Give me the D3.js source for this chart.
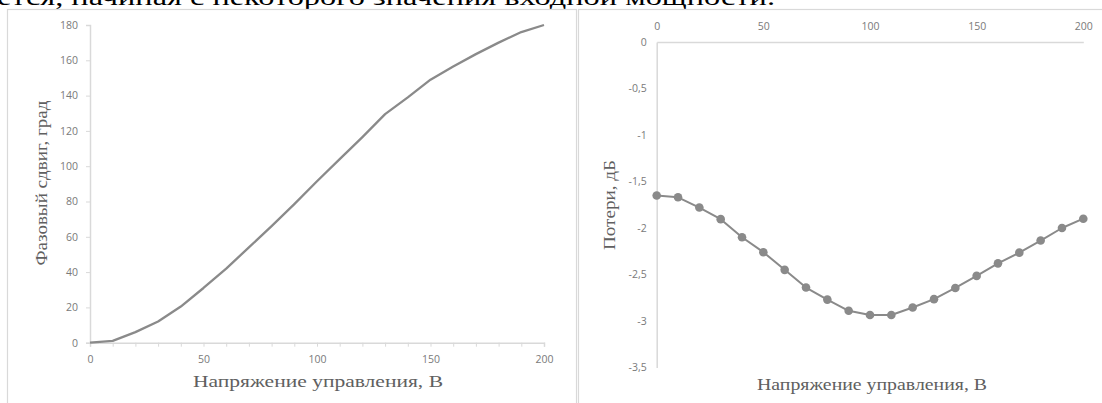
<!DOCTYPE html>
<html><head><meta charset="utf-8">
<script src="https://cdn.jsdelivr.net/npm/d3@7"></script>
<style>
html,body{margin:0;padding:0;background:#fff;overflow:hidden}
svg{display:block}
</style></head>
<body>
<svg id="c" width="1102" height="403"></svg>
<script>
// ---- data ----
const voltage = [0,10,20,30,40,50,60,70,80,90,100,110,120,130,140,150,160,170,180,190,200];
const phaseShift = [0,1,6,12,20.5,31,42,54,66,78.5,91.5,104,116.5,129.5,139,149,156.5,163.5,170,176,180];
const losses = [-1.65,-1.67,-1.78,-1.905,-2.10,-2.26,-2.45,-2.64,-2.77,-2.89,-2.935,-2.935,-2.855,-2.765,-2.645,-2.515,-2.38,-2.265,-2.135,-2.0,-1.90];
const leftYTicks = [0,20,40,60,80,100,120,140,160,180];
const xLabelTicks = [0,50,100,150,200];
const rightYTicks = [0,-0.5,-1,-1.5,-2,-2.5,-3,-3.5];
const xTitle = "Напряжение управления, В";
const leftYTitle = "Фазовый сдвиг, град";
const rightYTitle = "Потери, дБ";
const topText = "ется, начиная с некоторого значения входной мощности.";

const svg = d3.select("#c");
const grid = "#d9d9d9", labelCol = "#7a7a7a", titleCol = "#606060", lineCol = "#8a8a8a";
const numFont = "'Open Sans', sans-serif", serif = "'Liberation Serif', 'Times New Roman', serif";

// clipped line of body text at top
svg.append("text").attr("x",-3).attr("y",5).attr("font-family",serif).attr("font-size",23)
  .attr("fill","#000").attr("textLength",778).attr("lengthAdjust","spacingAndGlyphs").text(topText);

// panel borders
svg.append("rect").attr("x",7.5).attr("y",9.5).attr("width",569).attr("height",400)
  .attr("fill","#fff").attr("stroke",grid).attr("stroke-width",1.2);
svg.append("rect").attr("x",578.5).attr("y",9.5).attr("width",530).attr("height",400)
  .attr("fill","#fff").attr("stroke",grid).attr("stroke-width",1.2);

// ---------- left chart ----------
const xL = d3.scaleLinear().domain([0,200]).range([90,544]);
const yL = d3.scaleLinear().domain([0,180]).range([342.7,25]);

const gxL = svg.append("g").attr("transform",`translate(0,${yL(0)})`)
  .call(d3.axisBottom(xL).tickValues(voltage).tickSize(4).tickPadding(9)
    .tickFormat(d => xLabelTicks.includes(d) ? d : ""));
const gyL = svg.append("g").attr("transform",`translate(${xL(0)},0)`)
  .call(d3.axisLeft(yL).tickValues(leftYTicks).tickSize(4).tickPadding(8));
[gxL,gyL].forEach(g=>{
  g.select(".domain").attr("stroke",grid).attr("stroke-width",1.5);
  g.selectAll(".tick line").attr("stroke",grid).attr("stroke-width",1);
  g.selectAll(".tick text").attr("fill",labelCol).attr("font-family",numFont).attr("font-size",10.5);
});

svg.append("path").datum(voltage.map((v,i)=>[v,phaseShift[i]]))
  .attr("fill","none").attr("stroke",lineCol).attr("stroke-width",2.3).attr("stroke-linejoin","round")
  .attr("d",d3.line().x(d=>xL(d[0])).y(d=>yL(d[1])));

svg.append("text").attr("x",193).attr("y",387).attr("font-family",serif).attr("font-size",17)
  .attr("fill",titleCol).attr("textLength",250).attr("lengthAdjust","spacingAndGlyphs").text(xTitle);
svg.append("text").attr("transform","translate(47,183) rotate(-90)").attr("text-anchor","middle")
  .attr("font-family",serif).attr("font-size",16.5).attr("fill",titleCol)
  .attr("textLength",165).attr("lengthAdjust","spacingAndGlyphs").text(leftYTitle);

// ---------- right chart ----------
const xR = d3.scaleLinear().domain([0,200]).range([656.7,1083.3]);
const yR = d3.scaleLinear().domain([0,-3.5]).range([42,367.5]);
const fmt = d => String(d).replace(".",",");

const gxR = svg.append("g").attr("transform",`translate(0,${yR(0)})`)
  .call(d3.axisTop(xR).tickValues(xLabelTicks).tickSize(0).tickPadding(12));
const gyR = svg.append("g").attr("transform",`translate(${xR(0)},0)`)
  .call(d3.axisLeft(yR).tickValues(rightYTicks).tickSize(0).tickPadding(10).tickFormat(fmt));
[gxR,gyR].forEach(g=>{
  g.select(".domain").attr("stroke",grid).attr("stroke-width",1.5);
  g.selectAll(".tick text").attr("fill",labelCol).attr("font-family",numFont).attr("font-size",10.5);
});

svg.append("path").datum(voltage.map((v,i)=>[v,losses[i]]))
  .attr("fill","none").attr("stroke",lineCol).attr("stroke-width",2).attr("stroke-linejoin","round")
  .attr("d",d3.line().x(d=>xR(d[0])).y(d=>yR(d[1])));
svg.append("g").selectAll("circle").data(voltage.map((v,i)=>[v,losses[i]])).join("circle")
  .attr("cx",d=>xR(d[0])).attr("cy",d=>yR(d[1])).attr("r",4.3).attr("fill",lineCol);

svg.append("text").attr("x",757).attr("y",390).attr("font-family",serif).attr("font-size",16)
  .attr("fill",titleCol).attr("textLength",230).attr("lengthAdjust","spacingAndGlyphs").text(xTitle);
svg.append("text").attr("transform","translate(615,205) rotate(-90)").attr("text-anchor","middle")
  .attr("font-family",serif).attr("font-size",16).attr("fill",titleCol)
  .attr("textLength",90).attr("lengthAdjust","spacingAndGlyphs").text(rightYTitle);
</script>
</body></html>
